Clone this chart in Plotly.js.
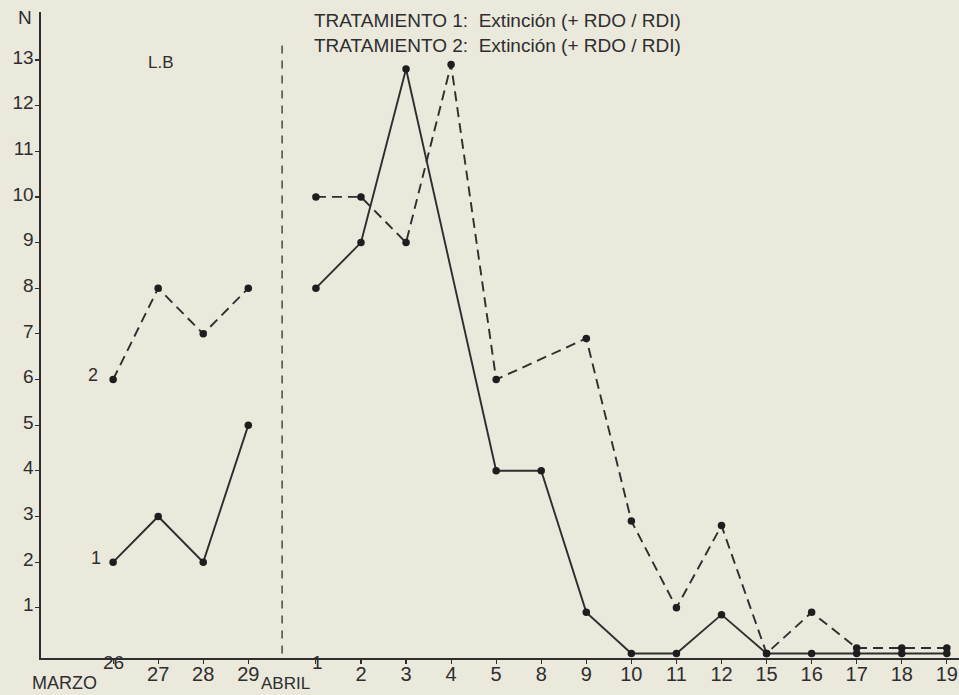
<!DOCTYPE html>
<html>
<head>
<meta charset="utf-8">
<script src="https://cdn.plot.ly/plotly-3.0.1.min.js"></script>
<style>
  html, body { margin: 0; padding: 0; background: #ebe8dc; }
  #chart { width: 959px; height: 695px; }
</style>
</head>
<body>
<div id="chart"></div>
<script>
// ---- data ----
const sessions = ['26','27','28','29','1','2','3','4','5','8','9','10','11','12','15','16','17','18','19'];
const baselineCount = 4; // sessions in "L.B" (marzo)
const serie1 = [2, 3, 2, 5, 8, 9, 12.8, null, 4, 4, 0.9, 0, 0, 0.85, 0, 0, 0, 0, 0];
const serie2 = [6, 8, 7, 8, 10, 10, 9, 12.9, 6, null, 6.9, 2.9, 1, 2.8, 0, 0.9, 0.12, 0.12, 0.12];
const yTicks = [1,2,3,4,5,6,7,8,9,10,11,12,13];
const titleLines = ['TRATAMIENTO 1:  Extinción (+ RDO / RDI)', 'TRATAMIENTO 2:  Extinción (+ RDO / RDI)'];
const phaseLabel = 'L.B';
const monthLabels = ['MARZO', 'ABRIL'];
const yLabel = 'N';

// ---- layout helpers ----
const W = 959, H = 695;
const M = {l: 41, r: 0, t: 12, b: 37};
const pw = W - M.l - M.r, ph = H - M.t - M.b;
const px = p => (p - M.l) / pw;
const py = q => (H - M.b - q) / ph;

// x position of each session with a gap for the phase change
const xpos = sessions.map((s, i) => i < baselineCount ? i : i + 0.5);
const phaseX = baselineCount - 0.25;

const ink = '#2e2e2e';
const FONT = '"Liberation Sans", Arial, Helvetica, sans-serif';

function seg(vals, from, to, dash, name) {
  return {
    type: 'scatter', mode: 'lines+markers', name: name,
    x: xpos.slice(from, to), y: vals.slice(from, to),
    connectgaps: true,
    line: {color: ink, width: 1.9, dash: dash},
    marker: {color: '#1e1e1e', size: 7.5},
    cliponaxis: false,
    hoverinfo: 'x+y'
  };
}

const traces = [
  seg(serie1, 0, baselineCount, 'solid', '1'),
  seg(serie1, baselineCount, sessions.length, 'solid', '1'),
  seg(serie2, 0, baselineCount, '10px,6px', '2'),
  seg(serie2, baselineCount, sessions.length, '10px,6px', '2')
];

// raised tick labels under month names
const raised = [0, baselineCount];
const tickText = sessions.map((s, i) => raised.includes(i) ? '' : s);

function ann(text, x, y, size, extra) {
  return Object.assign({
    text: text, x: x, y: y, xref: 'paper', yref: 'paper',
    xanchor: 'center', yanchor: 'middle', showarrow: false,
    font: {size: size, color: ink, family: FONT}
  }, extra || {});
}

const annotations = [
  ann(yLabel, px(25), py(18), 19),
  ann(phaseLabel, px(161), py(62), 17),
  ann(titleLines[0], px(312), py(20), 19, {xanchor: 'left'}),
  ann(titleLines[1], px(312), py(45), 19, {xanchor: 'left'}),
  ann(monthLabels[0], px(64), py(695), 18, {yanchor: 'bottom'}),
  ann(monthLabels[1], px(312), py(695), 17, {xanchor: 'right', yanchor: 'bottom'}),
  ann('1', xpos[0] - 0.22, serie1[0] + 0.1, 18, {xref: 'x', yref: 'y', xanchor: 'right'}),
  ann('2', xpos[0] - 0.29, serie2[0] + 0.1, 18, {xref: 'x', yref: 'y', xanchor: 'right'})
];
raised.forEach(i => annotations.push(
  ann(sessions[i], xpos[i], py(662), 19, {xref: 'x', xshift: i === 0 ? 0 : 2})
));

const layout = {
  width: W, height: H,
  margin: M,
  paper_bgcolor: '#ebe8dc',
  plot_bgcolor: '#ebe8dc',
  showlegend: false,
  font: {family: FONT, color: ink},
  xaxis: {
    range: [-1.6, 18.77],
    tickvals: xpos, ticktext: tickText,
    showline: true, linecolor: ink, linewidth: 1.6,
    ticks: 'outside', ticklen: 4, tickwidth: 1.2, tickcolor: ink,
    ticklabelstandoff: -7,
    showgrid: false, zeroline: false,
    tickfont: {size: 20, color: ink, family: FONT}
  },
  yaxis: {
    range: [-0.1, 14.05],
    tickvals: yTicks,
    showline: true, linecolor: ink, linewidth: 1.6,
    ticks: 'outside', ticklen: 4, tickwidth: 1.2, tickcolor: ink,
    ticklabelstandoff: -2,
    ticklabelshift: -3,
    showgrid: false, zeroline: false,
    tickfont: {size: 19, color: ink, family: FONT}
  },
  shapes: [{
    type: 'line', xref: 'x', yref: 'y',
    x0: phaseX, x1: phaseX, y0: 0, y1: 13.4,
    line: {color: ink, width: 1.3, dash: '8px,7px'}
  }],
  annotations: annotations
};

Plotly.newPlot('chart', traces, layout, {displayModeBar: false, staticPlot: true});
</script>
</body>
</html>
